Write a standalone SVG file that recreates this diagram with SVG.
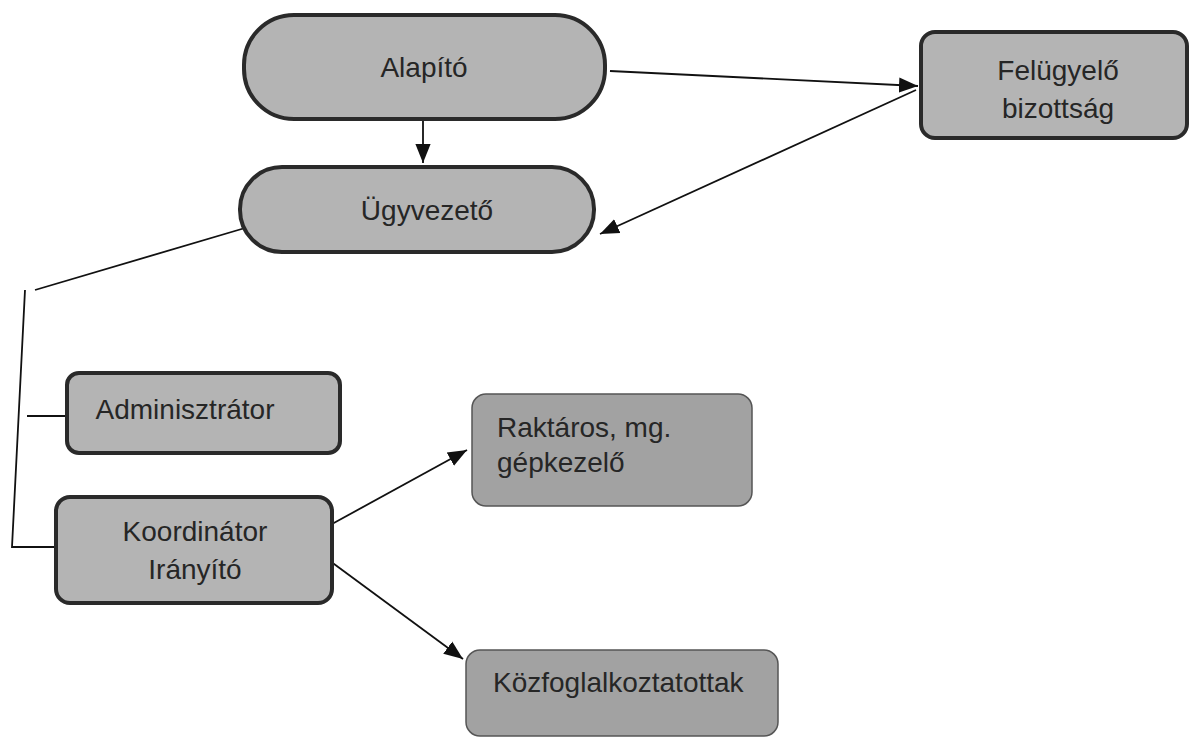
<svg xmlns="http://www.w3.org/2000/svg" width="1191" height="739" viewBox="0 0 1191 739">
<style>
.n{fill:#b4b4b4;stroke:#2a2a2a;stroke-width:4}
.d{fill:#a2a2a2;stroke:#555;stroke-width:1.5}
.t{font-family:"Liberation Sans",Arial,sans-serif;font-size:28px;fill:#262626}
.c{fill:none;stroke:#111;stroke-width:1.8}
</style>
<defs>
<marker id="ahL" viewBox="0 0 10 10" refX="10" refY="5" markerWidth="19" markerHeight="19" markerUnits="userSpaceOnUse" orient="auto"><path d="M0,1 L10,5 L0,9 z" fill="#111"/></marker>
</defs>
<g id="connectors">
<line class="c" x1="423" y1="121" x2="423" y2="163" marker-end="url(#ahL)"/>
<line class="c" x1="610" y1="71" x2="918" y2="86" marker-end="url(#ahL)"/>
<line class="c" x1="916" y1="90" x2="600" y2="234" marker-end="url(#ahL)"/>
<polyline class="c" points="245,228 35,290"/>
<polyline class="c" points="25,290 12,547 57,547"/>
<line class="c" x1="27" y1="416" x2="68" y2="416"/>
<line class="c" x1="332" y1="524" x2="467" y2="450" marker-end="url(#ahL)"/>
<line class="c" x1="330" y1="561" x2="463" y2="659" marker-end="url(#ahL)"/>
</g>
<g id="alapito"><rect class="n" x="244" y="15" width="361" height="104" rx="50"/><text class="t" x="424" y="77" text-anchor="middle">Alapító</text></g>
<g id="ugyvezeto"><rect class="n" x="240" y="167" width="354" height="85" rx="42"/><text class="t" x="427" y="220" text-anchor="middle">Ügyvezető</text></g>
<g id="felugyelo"><rect class="n" x="921" y="32" width="266" height="106" rx="14"/><text class="t" x="1058" y="80" text-anchor="middle">Felügyelő</text><text class="t" x="1058" y="118" text-anchor="middle">bizottság</text></g>
<g id="adminisztrator"><rect class="n" x="67" y="373" width="273" height="80" rx="12"/><text class="t" x="185" y="419" text-anchor="middle">Adminisztrátor</text></g>
<g id="koordinator"><rect class="n" x="56" y="497" width="276" height="106" rx="14"/><text class="t" x="195" y="541" text-anchor="middle">Koordinátor</text><text class="t" x="195" y="579" text-anchor="middle">Irányító</text></g>
<g id="raktaros"><rect class="d" x="472" y="394" width="280" height="112" rx="14"/><text class="t" x="497" y="437">Raktáros, mg.</text><text class="t" x="497" y="472">gépkezelő</text></g>
<g id="kozfoglalkoztatottak"><rect class="d" x="466" y="650" width="312" height="86" rx="14"/><text class="t" x="493" y="692">Közfoglalkoztatottak</text></g>
</svg>
